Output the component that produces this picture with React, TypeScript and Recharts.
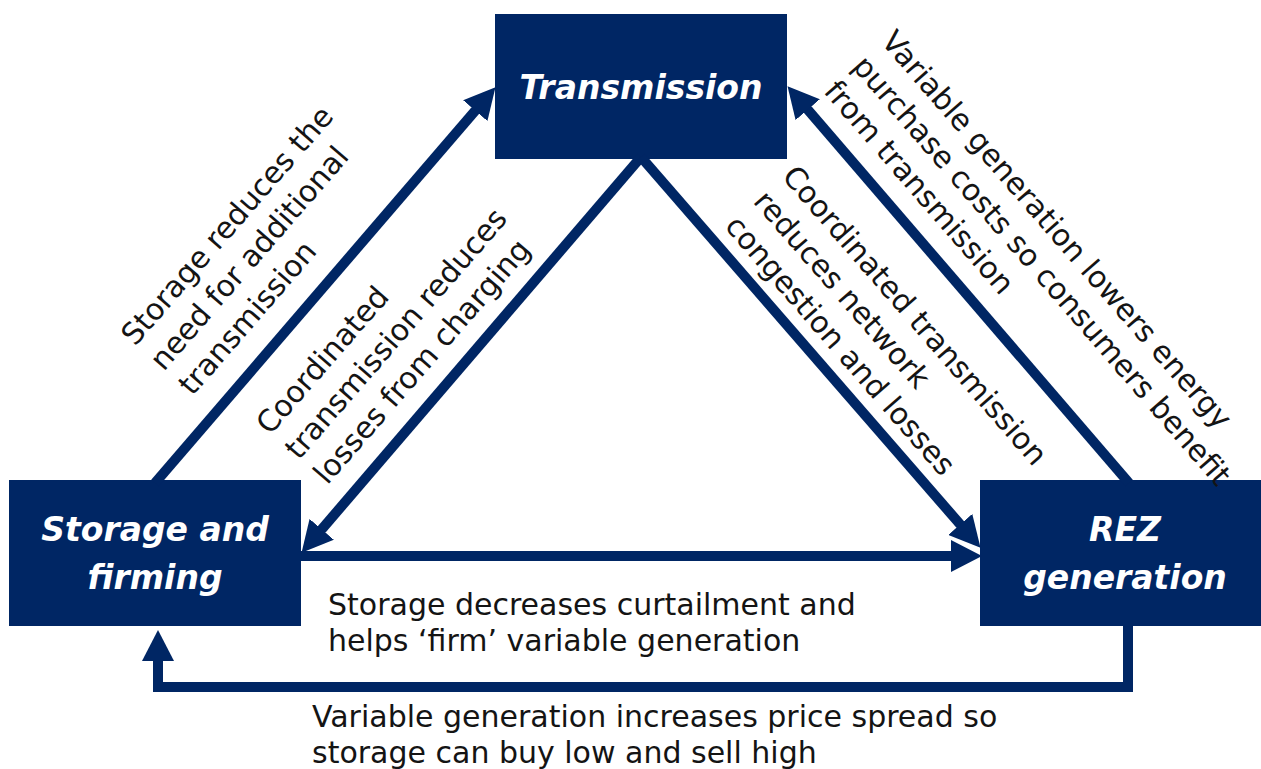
import { ComposedChart, Line, XAxis, YAxis, ReferenceArea, ReferenceDot } from 'recharts';

const NAVY = '#002664';
const INK = '#141414';
const FONT = '"DejaVu Sans", sans-serif';

// the three boxes
const boxNames = [['Transmission'], ['Storage and', 'firming'], ['REZ', 'generation']];
const boxX1 = [495, 9, 980];
const boxX2 = [787, 301, 1270];
const boxY1 = [14, 480, 480];
const boxY2 = [159, 626, 626];

// arrows: the last point is where the shaft ends under the arrowhead
const storageToTransmission = [{ x: 155, y: 483 }, { x: 487, y: 97 }];
const transmissionToStorage = [{ x: 641, y: 157 }, { x: 310, y: 543 }];
const transmissionToRez = [{ x: 641, y: 157 }, { x: 972, y: 538 }];
const rezToTransmission = [{ x: 1129, y: 483 }, { x: 796, y: 96 }];
const storageToRez = [{ x: 299, y: 556 }, { x: 969, y: 556 }];
const rezToStorage = [{ x: 1128, y: 624 }, { x: 1128, y: 687 }, { x: 158, y: 687 }, { x: 158, y: 643 }];
const arrows = [storageToTransmission, transmissionToStorage, transmissionToRez, rezToTransmission, storageToRez, rezToStorage];

// notes beside the arrows
const noteLines = [
  ['Storage reduces the', 'need for additional', 'transmission'],
  ['Coordinated', 'transmission reduces', 'losses from charging'],
  ['Coordinated transmission', 'reduces network', 'congestion and losses'],
  ['Variable generation lowers energy', 'purchase costs so consumers benefit', 'from transmission'],
  ['Storage decreases curtailment and', 'helps \u2018firm\u2019 variable generation'],
  ['Variable generation increases price spread so', 'storage can buy low and sell high'],
];
const noteX = [135, 270, 781, 880, 328, 312];
const noteY = [347, 436, 177, 42, 615, 727];
const noteAngle = [-49, -49, 49, 49, 0, 0];

const BoxTitle = ({ viewBox, lines }: any) => {
  const cx = viewBox.x + viewBox.width / 2;
  const cy = viewBox.y + viewBox.height / 2;
  return (
    <text
      textAnchor="middle"
      fill="#fff"
      fontFamily={FONT}
      fontWeight="bold"
      fontStyle="italic"
      fontSize={33}
    >
      {lines.map((t: string, i: number) => (
        <tspan key={i} x={cx} y={cy + 12 + (i - (lines.length - 1) / 2) * 48}>
          {t}
        </tspan>
      ))}
    </text>
  );
};

const Note = ({ cx, cy, angle, lines }: any) => (
  <text
    x={cx}
    y={cy}
    transform={angle ? `rotate(${angle} ${cx} ${cy})` : undefined}
    fill={INK}
    fontFamily={FONT}
    fontSize={30}
  >
    {lines.map((t: string, i: number) => (
      <tspan key={i} x={cx} dy={i === 0 ? 0 : angle ? 38 : 36}>
        {t}
      </tspan>
    ))}
  </text>
);

export default function App() {
  return (
    <div style={{ position: 'absolute', left: 0, top: 0, background: '#fff' }}>
      <ComposedChart width={1261} height={769} margin={{ top: 0, right: 0, bottom: 0, left: 0 }}>
        <defs>
          <marker
            id="arrowHead"
            markerUnits="userSpaceOnUse"
            markerWidth={32}
            markerHeight={32}
            refX={18}
            refY={16}
            orient="auto"
          >
            <path d="M0,0 L31,16 L0,32 Z" fill={NAVY} />
          </marker>
        </defs>
        <XAxis type="number" dataKey="x" domain={[0, 1261]} hide allowDataOverflow />
        <YAxis type="number" dataKey="y" domain={[0, 769]} reversed hide allowDataOverflow />
        {arrows.map((pts, i) => (
          <Line
            key={i}
            data={pts}
            dataKey="y"
            type="linear"
            stroke={NAVY}
            strokeWidth={10}
            dot={false}
            activeDot={false}
            legendType="none"
            markerEnd="url(#arrowHead)"
            isAnimationActive={false}
          />
        ))}
        {boxNames.map((lines, i) => (
          <ReferenceArea
            key={i}
            x1={boxX1[i]}
            x2={boxX2[i]}
            y1={boxY1[i]}
            y2={boxY2[i]}
            fill={NAVY}
            fillOpacity={1}
            stroke="none"
            ifOverflow="visible"
            label={(p: any) => <BoxTitle viewBox={p.viewBox} lines={lines} />}
          />
        ))}
        {noteLines.map((lines, i) => (
          <ReferenceDot
            key={i}
            x={noteX[i]}
            y={noteY[i]}
            r={0}
            ifOverflow="visible"
            shape={(p: any) => <Note cx={p.cx} cy={p.cy} angle={noteAngle[i]} lines={lines} />}
          />
        ))}
      </ComposedChart>
    </div>
  );
}
